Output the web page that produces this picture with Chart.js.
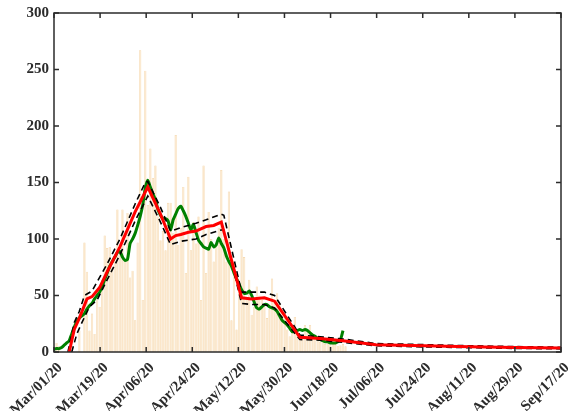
<!DOCTYPE html>
<html lang="en">
<head>
  <meta charset="UTF-8">
  <title>Daily cases and fitted trend</title>
  <script src="https://cdn.jsdelivr.net/npm/chart.js"></script>
  <style>
    body { margin: 0; background: #fff; }
  </style>
</head>
<body>
  <canvas id="casesChart" width="575" height="411"></canvas>

  <script>
    // x axis runs in days from Mar/01/20 (day 0) to Sep/17/20 (day 200)
    const dayMax = 200;
    const tickLabels = ['Mar/01/20', 'Mar/19/20', 'Apr/06/20', 'Apr/24/20', 'May/12/20', 'May/30/20',
                        'Jun/18/20', 'Jul/06/20', 'Jul/24/20', 'Aug/11/20', 'Aug/29/20', 'Sep/17/20'];
    const yTicks = [0, 50, 100, 150, 200, 250, 300];

    // reported cases per day, starting at day 0
    const dailyCases = [
      0, 8, 5, 0, 0, 0, 0, 0, 0, 0,
      19, 0, 97, 71, 19, 34, 16, 54, 40, 64,
      103, 92, 93, 75, 81, 126, 87, 126, 81, 123,
      66, 72, 28, 97, 267, 46, 249, 130, 180, 154,
      165, 120, 99, 107, 90, 132, 132, 105, 192, 95,
      110, 146, 70, 155, 90, 115, 96, 120, 46, 165,
      70, 124, 100, 80, 95, 110, 161, 100, 80, 142,
      28, 78, 20, 60, 91, 84, 48, 64, 33, 40,
      58, 50, 46, 42, 30, 38, 65, 44, 52, 42,
      35, 33, 20, 14, 22, 31, 18, 15, 12, 24,
      19, 24, 14, 12, 12, 9, 10, 7, 8, 6,
      7, 9, 5, 6, 7, 5
    ];

    // moving average of the daily counts, starting at day 0
    const movingAvg = [
      2.5, 3, 3, 4, 6, 8, 10, 16, 22, 27,
      30, 32, 34, 38, 41, 43, 47, 50, 53, 58,
      64, 70, 76, 80, 84, 88, 89, 84, 81, 82,
      96, 100, 105, 112, 120, 130, 145, 152, 146, 140,
      135, 126, 121, 118, 118, 116, 108, 117, 122, 127,
      129, 125, 120, 114, 108, 113, 106, 99, 96, 93,
      92, 91, 97, 93, 95, 101, 96, 92, 85, 80,
      76, 70, 65, 60, 55, 52, 52, 54, 50, 44,
      39, 38, 40, 42, 42, 40, 39, 38, 36, 32,
      28, 26, 24, 21, 18, 18, 19, 20, 19, 20,
      19, 17, 15, 14, 12, 11, 10, 9, 9, 8,
      8, 8, 9, 11, 19
    ];

    // piecewise model fit and its confidence band
    const fitDays = [6, 8, 10, 13, 15, 18, 21, 26, 32, 37, 42, 46, 48, 50, 53, 56, 60, 63, 66,
                     74, 78, 83, 87, 97, 105, 114, 127, 146, 164, 182, 200];
    const fitVals = [0, 20, 30, 47, 49, 57, 71, 93, 124, 146, 122, 100, 103, 104, 106, 107, 111, 112, 115,
                     48, 47, 48, 45, 13, 12, 10, 6.5, 5.5, 4.7, 4, 3.5];

    const upperDays = [5.5, 8, 10, 12, 15, 21, 26, 32, 36, 37, 42, 46, 50, 56, 60, 66, 67,
                       74, 78, 83, 87, 97, 105, 114, 127, 146, 164, 182, 200];
    const upperVals = [0, 26, 36, 50, 54, 78, 100, 131, 150, 151, 128, 107, 110, 114, 117, 122, 121,
                       53, 53, 53, 50, 15, 13.5, 11.5, 7.5, 6.5, 5.5, 4.8, 4.2];

    const lowerDays = [7, 9, 11, 14, 17, 21, 26, 32, 37, 42, 46, 50, 56, 60, 66, 67,
                       74, 78, 83, 87, 97, 105, 114, 127, 146, 164, 182, 200];
    const lowerVals = [0, 16, 26, 40, 46, 64, 86, 116, 138, 115, 95, 98, 100, 104, 108, 108,
                       43, 42, 42, 39, 11, 10.5, 8.5, 5.5, 4.5, 3.8, 3.2, 2.8];

    const zip = (xs, ys) => xs.map((x, i) => ({ x: x, y: ys[i] }));
    const byDay = ys => ys.map((y, i) => ({ x: i, y: y }));

    const axisColor = '#2b2b2b';
    const tickFont = { family: "'Liberation Serif', 'Times New Roman', serif", size: 15, weight: 'bold' };

    // box round the plot with short inward ticks on all four sides
    const framePlugin = {
      id: 'frame',
      afterDatasetsDraw(chart) {
        const { ctx, chartArea: a, scales } = chart;
        const len = 5;
        ctx.save();
        ctx.strokeStyle = axisColor;
        ctx.lineWidth = 1.5;
        ctx.strokeRect(a.left, a.top, a.right - a.left, a.bottom - a.top);
        ctx.beginPath();
        scales.x.ticks.forEach(t => {
          const px = scales.x.getPixelForValue(t.value);
          ctx.moveTo(px, a.bottom); ctx.lineTo(px, a.bottom - len);
          ctx.moveTo(px, a.top); ctx.lineTo(px, a.top + len);
        });
        scales.y.ticks.forEach(t => {
          const py = scales.y.getPixelForValue(t.value);
          ctx.moveTo(a.left, py); ctx.lineTo(a.left + len, py);
          ctx.moveTo(a.right, py); ctx.lineTo(a.right - len, py);
        });
        ctx.stroke();
        ctx.restore();
      }
    };

    const ctx = document.getElementById('casesChart').getContext('2d');
    new Chart(ctx, {
      type: 'line',
      data: {
        datasets: [
          {
            type: 'bar',
            data: byDay(dailyCases),
            backgroundColor: '#fbe6c9',
            borderColor: '#f4d4a6',
            borderWidth: 0.6,
            barPercentage: 0.9,
            categoryPercentage: 1,
            order: 4
          },
          {
            data: byDay(movingAvg),
            borderColor: '#008000',
            borderWidth: 3,
            pointRadius: 0,
            tension: 0.2,
            order: 3
          },
          {
            data: zip(upperDays, upperVals),
            borderColor: '#000',
            borderWidth: 1.6,
            borderDash: [6, 4],
            pointRadius: 0,
            order: 2
          },
          {
            data: zip(lowerDays, lowerVals),
            borderColor: '#000',
            borderWidth: 1.6,
            borderDash: [6, 4],
            pointRadius: 0,
            order: 2
          },
          {
            data: zip(fitDays, fitVals),
            borderColor: '#ff0000',
            borderWidth: 3,
            pointRadius: 0,
            order: 1
          }
        ]
      },
      options: {
        responsive: false,
        animation: false,
        layout: { padding: { top: 13, right: 14, left: 0, bottom: 0 } },
        plugins: { legend: { display: false }, tooltip: { enabled: false } },
        scales: {
          x: {
            type: 'linear',
            min: 0,
            max: dayMax,
            offset: false,
            grid: { display: false, drawTicks: false },
            border: { display: false },
            afterBuildTicks: axis => {
              axis.ticks = tickLabels.map((_, i) => ({ value: i * dayMax / (tickLabels.length - 1) }));
            },
            afterFit: axis => {
              // keep the plot box fixed; rotated labels may overhang the sides
              axis.height = 59;
              axis.paddingLeft = 0;
              axis.paddingRight = 0;
            },
            ticks: {
              autoSkip: false,
              maxRotation: 45,
              minRotation: 45,
              padding: 7,
              labelOffset: 6,
              color: axisColor,
              font: tickFont,
              callback: (v, i) => tickLabels[i]
            }
          },
          y: {
            min: 0,
            max: 300,
            grid: { display: false, drawTicks: false },
            border: { display: false },
            afterBuildTicks: axis => {
              axis.ticks = yTicks.map(v => ({ value: v }));
            },
            afterFit: axis => {
              axis.width = 54;
              axis.paddingTop = 0;
              axis.paddingBottom = 0;
            },
            ticks: {
              padding: 5,
              color: axisColor,
              font: tickFont
            }
          }
        }
      },
      plugins: [framePlugin]
    });
  </script>
</body>
</html>
